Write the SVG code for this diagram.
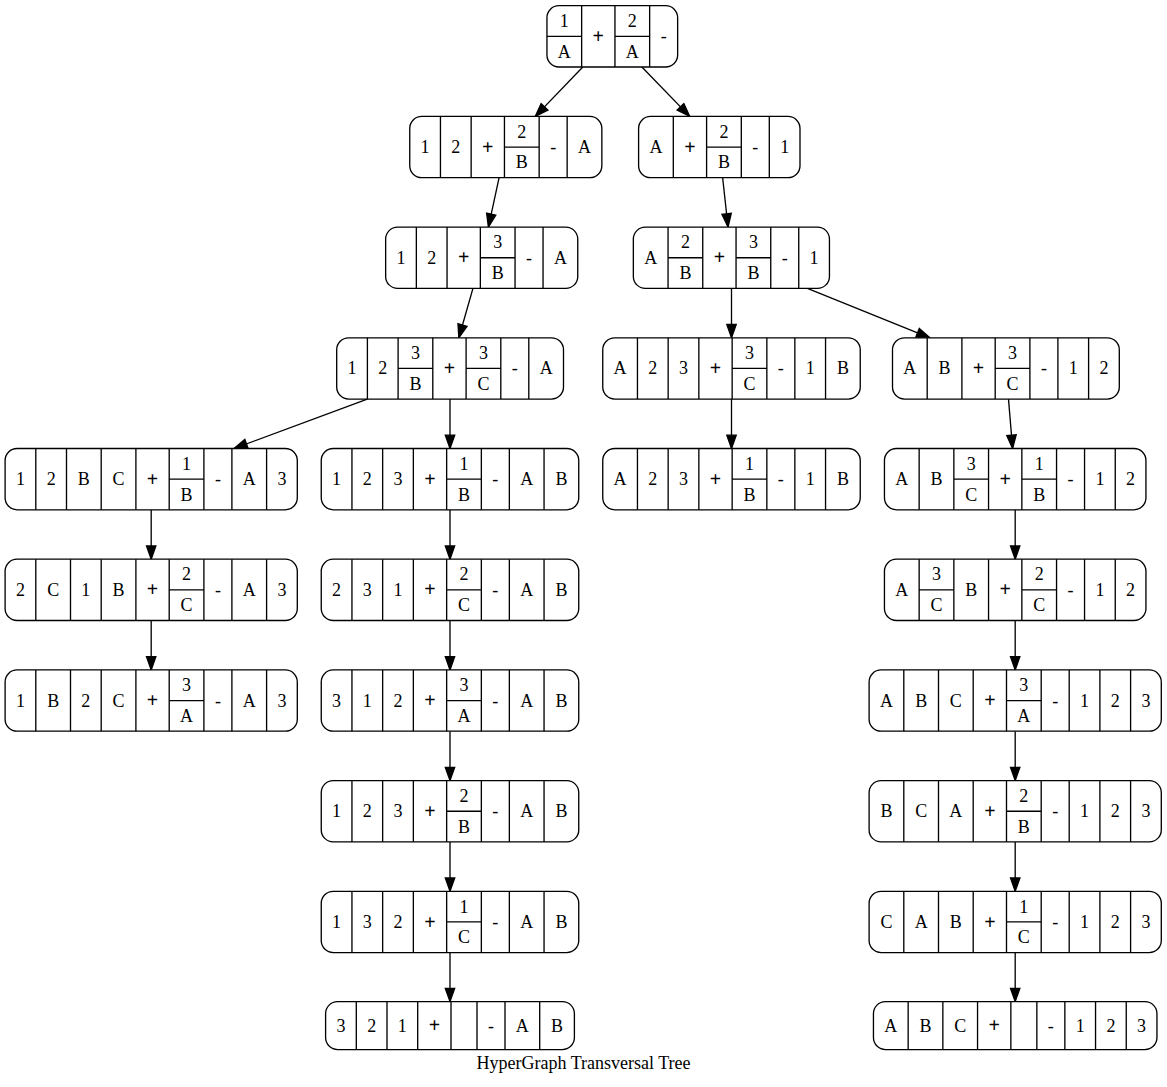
<svg xmlns="http://www.w3.org/2000/svg" width="1167" height="1087" viewBox="0 0 1167 1087">
<style>
.nb{fill:#fff;stroke:#000;stroke-width:1.33}
.dv{fill:none;stroke:#000;stroke-width:1.33}
.e{fill:none;stroke:#000;stroke-width:1.33;marker-end:url(#ah)}
text{font-family:"Liberation Serif","Times New Roman",serif;font-size:18px;text-anchor:middle;fill:#000}
.p{font-weight:bold;font-size:20px}
</style>
<defs>
<marker id="ah" markerUnits="userSpaceOnUse" markerWidth="16" markerHeight="12" refX="13.3" refY="4.7" orient="auto" overflow="visible">
<path d="M0,0L13.3,4.7L0,9.4z" fill="#000" stroke="#000" stroke-width="1.33"/>
</marker>
</defs>
<rect width="1167" height="1087" fill="#fff"/>

<g id="connectors">
<path class="e" d="M582.8,67L535.3,116.4"/>
<path class="e" d="M641.9,67L689.7,116.4"/>
<path class="e" d="M499.1,177.7L488.4,227.1"/>
<path class="e" d="M722.65,177.7L728.05,227.1"/>
<path class="e" d="M472.95,288.4L458.85,337.8"/>
<path class="e" d="M731.5,288.4L731.5,337.8"/>
<path class="e" d="M807.4,288.4L929.9,337.8"/>
<path class="e" d="M367.3,399.1L234,448.5"/>
<path class="e" d="M450,399.1L450,448.5"/>
<path class="e" d="M731.5,399.1L731.5,448.5"/>
<path class="e" d="M1008.5,399.1L1012.6,448.5"/>
<path class="e" d="M151.2,509.8L151.2,559.2"/>
<path class="e" d="M151.2,620.5L151.2,669.9"/>
<path class="e" d="M450,509.8L450,559.2"/>
<path class="e" d="M450,620.5L450,669.9"/>
<path class="e" d="M450,731.2L450,780.6"/>
<path class="e" d="M450,841.9L450,891.3"/>
<path class="e" d="M450,952.6L450,1001.6"/>
<path class="e" d="M1015.2,509.8L1015.2,559.2"/>
<path class="e" d="M1015.2,620.5L1015.2,669.9"/>
<path class="e" d="M1015.2,731.2L1015.2,780.6"/>
<path class="e" d="M1015.2,841.9L1015.2,891.3"/>
<path class="e" d="M1015.2,952.6L1015.2,1001.6"/>
</g>

<g id="n0" transform="translate(546.95,5.7)">
<rect class="nb" width="130.7" height="61.3" rx="12"/>
<path class="dv" d="M34.7,0V61.3M68,0V61.3M102.7,0V61.3M0,30.65H34.7M68,30.65H102.7"/>
<text x="17.35" y="21.3">1</text><text x="17.35" y="52">A</text><text x="51.35" y="37.3" class="p">+</text><text x="85.35" y="21.3">2</text><text x="85.35" y="52">A</text><text x="116.7" y="36.65">-</text>
</g>

<g id="n1" transform="translate(409.75,116.4)">
<rect class="nb" width="192.1" height="61.3" rx="12"/>
<path class="dv" d="M30.7,0V61.3M61.4,0V61.3M94.7,0V61.3M129.4,0V61.3M157.4,0V61.3M94.7,30.65H129.4"/>
<text x="15.35" y="36.65">1</text><text x="46.05" y="36.65">2</text><text x="78.05" y="37.3" class="p">+</text><text x="112.05" y="21.3">2</text><text x="112.05" y="52">B</text><text x="143.4" y="36.65">-</text><text x="174.75" y="36.65">A</text>
</g>

<g id="n2" transform="translate(638.6,116.4)">
<rect class="nb" width="161.4" height="61.3" rx="12"/>
<path class="dv" d="M34.7,0V61.3M68,0V61.3M102.7,0V61.3M130.7,0V61.3M68,30.65H102.7"/>
<text x="17.35" y="36.65">A</text><text x="51.35" y="37.3" class="p">+</text><text x="85.35" y="21.3">2</text><text x="85.35" y="52">B</text><text x="116.7" y="36.65">-</text><text x="146.05" y="36.65">1</text>
</g>

<g id="n3" transform="translate(385.65,227.1)">
<rect class="nb" width="192.1" height="61.3" rx="12"/>
<path class="dv" d="M30.7,0V61.3M61.4,0V61.3M94.7,0V61.3M129.4,0V61.3M157.4,0V61.3M94.7,30.65H129.4"/>
<text x="15.35" y="36.65">1</text><text x="46.05" y="36.65">2</text><text x="78.05" y="37.3" class="p">+</text><text x="112.05" y="21.3">3</text><text x="112.05" y="52">B</text><text x="143.4" y="36.65">-</text><text x="174.75" y="36.65">A</text>
</g>

<g id="n4" transform="translate(633.35,227.1)">
<rect class="nb" width="196.1" height="61.3" rx="12"/>
<path class="dv" d="M34.7,0V61.3M69.4,0V61.3M102.7,0V61.3M137.4,0V61.3M165.4,0V61.3M34.7,30.65H69.4M102.7,30.65H137.4"/>
<text x="17.35" y="36.65">A</text><text x="52.05" y="21.3">2</text><text x="52.05" y="52">B</text><text x="86.05" y="37.3" class="p">+</text><text x="120.05" y="21.3">3</text><text x="120.05" y="52">B</text><text x="151.4" y="36.65">-</text><text x="180.75" y="36.65">1</text>
</g>

<g id="n5" transform="translate(336.7,337.8)">
<rect class="nb" width="226.8" height="61.3" rx="12"/>
<path class="dv" d="M30.7,0V61.3M61.4,0V61.3M96.1,0V61.3M129.4,0V61.3M164.1,0V61.3M192.1,0V61.3M61.4,30.65H96.1M129.4,30.65H164.1"/>
<text x="15.35" y="36.65">1</text><text x="46.05" y="36.65">2</text><text x="78.75" y="21.3">3</text><text x="78.75" y="52">B</text><text x="112.75" y="37.3" class="p">+</text><text x="146.75" y="21.3">3</text><text x="146.75" y="52">C</text><text x="178.1" y="36.65">-</text><text x="209.45" y="36.65">A</text>
</g>

<g id="n6" transform="translate(602.75,337.8)">
<rect class="nb" width="257.5" height="61.3" rx="12"/>
<path class="dv" d="M34.7,0V61.3M65.4,0V61.3M96.1,0V61.3M129.4,0V61.3M164.1,0V61.3M192.1,0V61.3M222.8,0V61.3M129.4,30.65H164.1"/>
<text x="17.35" y="36.65">A</text><text x="50.05" y="36.65">2</text><text x="80.75" y="36.65">3</text><text x="112.75" y="37.3" class="p">+</text><text x="146.75" y="21.3">3</text><text x="146.75" y="52">C</text><text x="178.1" y="36.65">-</text><text x="207.45" y="36.65">1</text><text x="240.15" y="36.65">B</text>
</g>

<g id="n7" transform="translate(892.5,337.8)">
<rect class="nb" width="226.8" height="61.3" rx="12"/>
<path class="dv" d="M34.7,0V61.3M69.4,0V61.3M102.7,0V61.3M137.4,0V61.3M165.4,0V61.3M196.1,0V61.3M102.7,30.65H137.4"/>
<text x="17.35" y="36.65">A</text><text x="52.05" y="36.65">B</text><text x="86.05" y="37.3" class="p">+</text><text x="120.05" y="21.3">3</text><text x="120.05" y="52">C</text><text x="151.4" y="36.65">-</text><text x="180.75" y="36.65">1</text><text x="211.45" y="36.65">2</text>
</g>

<g id="n8" transform="translate(5.1,448.5)">
<rect class="nb" width="292.2" height="61.3" rx="12"/>
<path class="dv" d="M30.7,0V61.3M61.4,0V61.3M96.1,0V61.3M130.8,0V61.3M164.1,0V61.3M198.8,0V61.3M226.8,0V61.3M261.5,0V61.3M164.1,30.65H198.8"/>
<text x="15.35" y="36.65">1</text><text x="46.05" y="36.65">2</text><text x="78.75" y="36.65">B</text><text x="113.45" y="36.65">C</text><text x="147.45" y="37.3" class="p">+</text><text x="181.45" y="21.3">1</text><text x="181.45" y="52">B</text><text x="212.8" y="36.65">-</text><text x="244.15" y="36.65">A</text><text x="276.85" y="36.65">3</text>
</g>

<g id="n9" transform="translate(321.25,448.5)">
<rect class="nb" width="257.5" height="61.3" rx="12"/>
<path class="dv" d="M30.7,0V61.3M61.4,0V61.3M92.1,0V61.3M125.4,0V61.3M160.1,0V61.3M188.1,0V61.3M222.8,0V61.3M125.4,30.65H160.1"/>
<text x="15.35" y="36.65">1</text><text x="46.05" y="36.65">2</text><text x="76.75" y="36.65">3</text><text x="108.75" y="37.3" class="p">+</text><text x="142.75" y="21.3">1</text><text x="142.75" y="52">B</text><text x="174.1" y="36.65">-</text><text x="205.45" y="36.65">A</text><text x="240.15" y="36.65">B</text>
</g>

<g id="n10" transform="translate(602.75,448.5)">
<rect class="nb" width="257.5" height="61.3" rx="12"/>
<path class="dv" d="M34.7,0V61.3M65.4,0V61.3M96.1,0V61.3M129.4,0V61.3M164.1,0V61.3M192.1,0V61.3M222.8,0V61.3M129.4,30.65H164.1"/>
<text x="17.35" y="36.65">A</text><text x="50.05" y="36.65">2</text><text x="80.75" y="36.65">3</text><text x="112.75" y="37.3" class="p">+</text><text x="146.75" y="21.3">1</text><text x="146.75" y="52">B</text><text x="178.1" y="36.65">-</text><text x="207.45" y="36.65">1</text><text x="240.15" y="36.65">B</text>
</g>

<g id="n11" transform="translate(884.45,448.5)">
<rect class="nb" width="261.5" height="61.3" rx="12"/>
<path class="dv" d="M34.7,0V61.3M69.4,0V61.3M104.1,0V61.3M137.4,0V61.3M172.1,0V61.3M200.1,0V61.3M230.8,0V61.3M69.4,30.65H104.1M137.4,30.65H172.1"/>
<text x="17.35" y="36.65">A</text><text x="52.05" y="36.65">B</text><text x="86.75" y="21.3">3</text><text x="86.75" y="52">C</text><text x="120.75" y="37.3" class="p">+</text><text x="154.75" y="21.3">1</text><text x="154.75" y="52">B</text><text x="186.1" y="36.65">-</text><text x="215.45" y="36.65">1</text><text x="246.15" y="36.65">2</text>
</g>

<g id="n12" transform="translate(5.1,559.2)">
<rect class="nb" width="292.2" height="61.3" rx="12"/>
<path class="dv" d="M30.7,0V61.3M65.4,0V61.3M96.1,0V61.3M130.8,0V61.3M164.1,0V61.3M198.8,0V61.3M226.8,0V61.3M261.5,0V61.3M164.1,30.65H198.8"/>
<text x="15.35" y="36.65">2</text><text x="48.05" y="36.65">C</text><text x="80.75" y="36.65">1</text><text x="113.45" y="36.65">B</text><text x="147.45" y="37.3" class="p">+</text><text x="181.45" y="21.3">2</text><text x="181.45" y="52">C</text><text x="212.8" y="36.65">-</text><text x="244.15" y="36.65">A</text><text x="276.85" y="36.65">3</text>
</g>

<g id="n13" transform="translate(321.25,559.2)">
<rect class="nb" width="257.5" height="61.3" rx="12"/>
<path class="dv" d="M30.7,0V61.3M61.4,0V61.3M92.1,0V61.3M125.4,0V61.3M160.1,0V61.3M188.1,0V61.3M222.8,0V61.3M125.4,30.65H160.1"/>
<text x="15.35" y="36.65">2</text><text x="46.05" y="36.65">3</text><text x="76.75" y="36.65">1</text><text x="108.75" y="37.3" class="p">+</text><text x="142.75" y="21.3">2</text><text x="142.75" y="52">C</text><text x="174.1" y="36.65">-</text><text x="205.45" y="36.65">A</text><text x="240.15" y="36.65">B</text>
</g>

<g id="n14" transform="translate(884.45,559.2)">
<rect class="nb" width="261.5" height="61.3" rx="12"/>
<path class="dv" d="M34.7,0V61.3M69.4,0V61.3M104.1,0V61.3M137.4,0V61.3M172.1,0V61.3M200.1,0V61.3M230.8,0V61.3M34.7,30.65H69.4M137.4,30.65H172.1"/>
<text x="17.35" y="36.65">A</text><text x="52.05" y="21.3">3</text><text x="52.05" y="52">C</text><text x="86.75" y="36.65">B</text><text x="120.75" y="37.3" class="p">+</text><text x="154.75" y="21.3">2</text><text x="154.75" y="52">C</text><text x="186.1" y="36.65">-</text><text x="215.45" y="36.65">1</text><text x="246.15" y="36.65">2</text>
</g>

<g id="n15" transform="translate(5.1,669.9)">
<rect class="nb" width="292.2" height="61.3" rx="12"/>
<path class="dv" d="M30.7,0V61.3M65.4,0V61.3M96.1,0V61.3M130.8,0V61.3M164.1,0V61.3M198.8,0V61.3M226.8,0V61.3M261.5,0V61.3M164.1,30.65H198.8"/>
<text x="15.35" y="36.65">1</text><text x="48.05" y="36.65">B</text><text x="80.75" y="36.65">2</text><text x="113.45" y="36.65">C</text><text x="147.45" y="37.3" class="p">+</text><text x="181.45" y="21.3">3</text><text x="181.45" y="52">A</text><text x="212.8" y="36.65">-</text><text x="244.15" y="36.65">A</text><text x="276.85" y="36.65">3</text>
</g>

<g id="n16" transform="translate(321.25,669.9)">
<rect class="nb" width="257.5" height="61.3" rx="12"/>
<path class="dv" d="M30.7,0V61.3M61.4,0V61.3M92.1,0V61.3M125.4,0V61.3M160.1,0V61.3M188.1,0V61.3M222.8,0V61.3M125.4,30.65H160.1"/>
<text x="15.35" y="36.65">3</text><text x="46.05" y="36.65">1</text><text x="76.75" y="36.65">2</text><text x="108.75" y="37.3" class="p">+</text><text x="142.75" y="21.3">3</text><text x="142.75" y="52">A</text><text x="174.1" y="36.65">-</text><text x="205.45" y="36.65">A</text><text x="240.15" y="36.65">B</text>
</g>

<g id="n17" transform="translate(869.1,669.9)">
<rect class="nb" width="292.2" height="61.3" rx="12"/>
<path class="dv" d="M34.7,0V61.3M69.4,0V61.3M104.1,0V61.3M137.4,0V61.3M172.1,0V61.3M200.1,0V61.3M230.8,0V61.3M261.5,0V61.3M137.4,30.65H172.1"/>
<text x="17.35" y="36.65">A</text><text x="52.05" y="36.65">B</text><text x="86.75" y="36.65">C</text><text x="120.75" y="37.3" class="p">+</text><text x="154.75" y="21.3">3</text><text x="154.75" y="52">A</text><text x="186.1" y="36.65">-</text><text x="215.45" y="36.65">1</text><text x="246.15" y="36.65">2</text><text x="276.85" y="36.65">3</text>
</g>

<g id="n18" transform="translate(321.25,780.6)">
<rect class="nb" width="257.5" height="61.3" rx="12"/>
<path class="dv" d="M30.7,0V61.3M61.4,0V61.3M92.1,0V61.3M125.4,0V61.3M160.1,0V61.3M188.1,0V61.3M222.8,0V61.3M125.4,30.65H160.1"/>
<text x="15.35" y="36.65">1</text><text x="46.05" y="36.65">2</text><text x="76.75" y="36.65">3</text><text x="108.75" y="37.3" class="p">+</text><text x="142.75" y="21.3">2</text><text x="142.75" y="52">B</text><text x="174.1" y="36.65">-</text><text x="205.45" y="36.65">A</text><text x="240.15" y="36.65">B</text>
</g>

<g id="n19" transform="translate(869.1,780.6)">
<rect class="nb" width="292.2" height="61.3" rx="12"/>
<path class="dv" d="M34.7,0V61.3M69.4,0V61.3M104.1,0V61.3M137.4,0V61.3M172.1,0V61.3M200.1,0V61.3M230.8,0V61.3M261.5,0V61.3M137.4,30.65H172.1"/>
<text x="17.35" y="36.65">B</text><text x="52.05" y="36.65">C</text><text x="86.75" y="36.65">A</text><text x="120.75" y="37.3" class="p">+</text><text x="154.75" y="21.3">2</text><text x="154.75" y="52">B</text><text x="186.1" y="36.65">-</text><text x="215.45" y="36.65">1</text><text x="246.15" y="36.65">2</text><text x="276.85" y="36.65">3</text>
</g>

<g id="n20" transform="translate(321.25,891.3)">
<rect class="nb" width="257.5" height="61.3" rx="12"/>
<path class="dv" d="M30.7,0V61.3M61.4,0V61.3M92.1,0V61.3M125.4,0V61.3M160.1,0V61.3M188.1,0V61.3M222.8,0V61.3M125.4,30.65H160.1"/>
<text x="15.35" y="36.65">1</text><text x="46.05" y="36.65">3</text><text x="76.75" y="36.65">2</text><text x="108.75" y="37.3" class="p">+</text><text x="142.75" y="21.3">1</text><text x="142.75" y="52">C</text><text x="174.1" y="36.65">-</text><text x="205.45" y="36.65">A</text><text x="240.15" y="36.65">B</text>
</g>

<g id="n21" transform="translate(869.1,891.3)">
<rect class="nb" width="292.2" height="61.3" rx="12"/>
<path class="dv" d="M34.7,0V61.3M69.4,0V61.3M104.1,0V61.3M137.4,0V61.3M172.1,0V61.3M200.1,0V61.3M230.8,0V61.3M261.5,0V61.3M137.4,30.65H172.1"/>
<text x="17.35" y="36.65">C</text><text x="52.05" y="36.65">A</text><text x="86.75" y="36.65">B</text><text x="120.75" y="37.3" class="p">+</text><text x="154.75" y="21.3">1</text><text x="154.75" y="52">C</text><text x="186.1" y="36.65">-</text><text x="215.45" y="36.65">1</text><text x="246.15" y="36.65">2</text><text x="276.85" y="36.65">3</text>
</g>

<g id="n22" transform="translate(325.6,1001.6)">
<rect class="nb" width="248.8" height="48" rx="12"/>
<path class="dv" d="M30.7,0V48M61.4,0V48M92.1,0V48M125.4,0V48M151.4,0V48M179.4,0V48M214.1,0V48"/>
<text x="15.35" y="30">3</text><text x="46.05" y="30">2</text><text x="76.75" y="30">1</text><text x="108.75" y="30.6" class="p">+</text><text x="165.4" y="30">-</text><text x="196.75" y="30">A</text><text x="231.45" y="30">B</text>
</g>

<g id="n23" transform="translate(873.45,1001.6)">
<rect class="nb" width="283.5" height="48" rx="12"/>
<path class="dv" d="M34.7,0V48M69.4,0V48M104.1,0V48M137.4,0V48M163.4,0V48M191.4,0V48M222.1,0V48M252.8,0V48"/>
<text x="17.35" y="30">A</text><text x="52.05" y="30">B</text><text x="86.75" y="30">C</text><text x="120.75" y="30.6" class="p">+</text><text x="177.4" y="30">-</text><text x="206.75" y="30">1</text><text x="237.45" y="30">2</text><text x="268.15" y="30">3</text>
</g>

<text id="title" x="583.5" y="1069">HyperGraph Transversal Tree</text>
</svg>
